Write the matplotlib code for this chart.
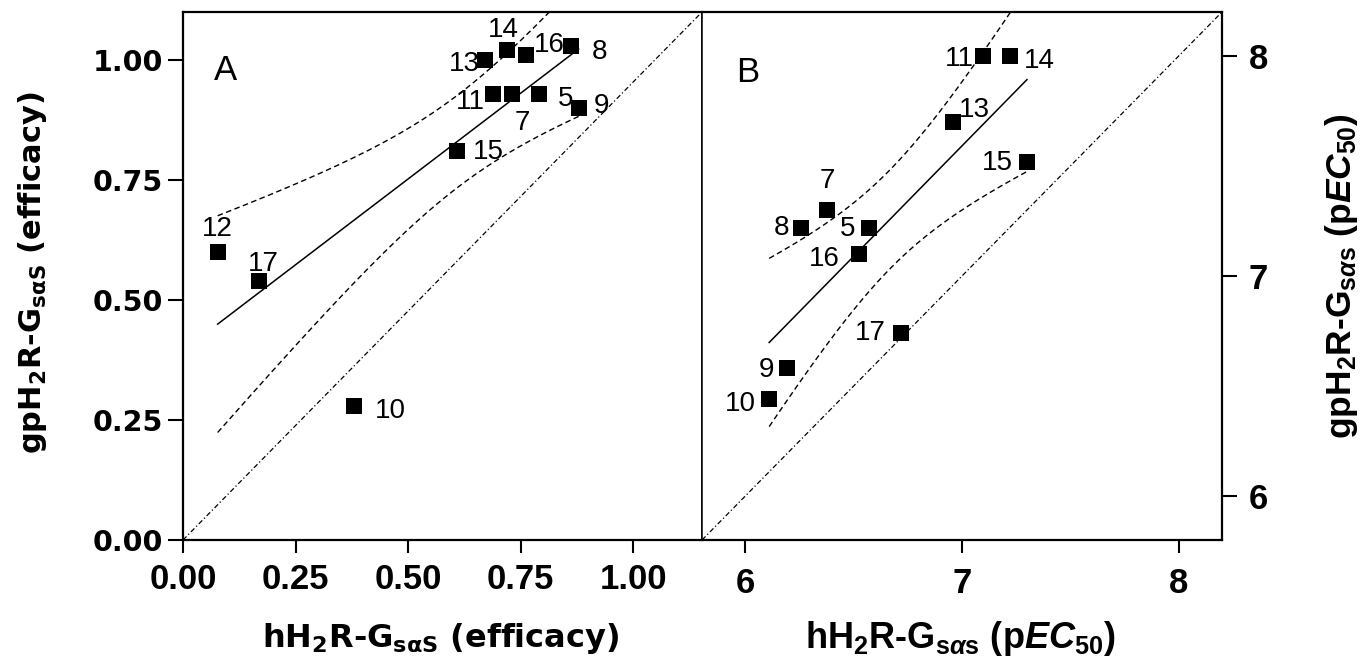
import numpy as np
import matplotlib
matplotlib.use("Agg")
import matplotlib.pyplot as plt

# ---------------- data ----------------
# Panel A: efficacy
a_ids = ["12", "17", "10", "15", "13", "14", "16", "8", "11", "7", "5", "9"]
a_x = [0.077, 0.168, 0.379, 0.609, 0.671, 0.720, 0.762, 0.861, 0.689, 0.731, 0.790, 0.879]
a_y = [0.60, 0.54, 0.28, 0.81, 1.00, 1.02, 1.01, 1.03, 0.93, 0.93, 0.93, 0.90]

# Panel B: pEC50
b_ids = ["11", "14", "13", "15", "7", "8", "5", "16", "17", "9", "10"]
b_x = [7.098, 7.220, 6.960, 7.300, 6.377, 6.259, 6.570, 6.525, 6.720, 6.190, 6.110]
b_y = [8.00, 8.00, 7.70, 7.52, 7.30, 7.22, 7.22, 7.10, 6.74, 6.58, 6.44]

a_ticks = [0.00, 0.25, 0.50, 0.75, 1.00]
a_ticklabels = ["0.00", "0.25", "0.50", "0.75", "1.00"]
b_ticks = [6, 7, 8]
b_ticklabels = ["6", "7", "8"]

# ---------------- layout (label offsets in pixels: right, down) ----------------
a_offsets = {"12": (0, -23), "17": (5, -17), "10": (37, 5), "15": (31, 1),
             "13": (-21, 4), "14": (-4, -20), "16": (23, -10), "8": (29, 6),
             "11": (-23, 8), "7": (10, 29), "5": (27, 5), "9": (23, -2)}
b_offsets = {"11": (-24, 3), "14": (30, 5), "13": (21, -12), "15": (-30, 1),
             "7": (0, -29), "8": (-20, 0), "5": (-21, 1), "16": (-35, 5),
             "17": (-31, 0), "9": (-20, 2), "10": (-29, 5)}

plt.rcParams['font.family'] = ['Liberation Sans', 'DejaVu Sans']
plt.rcParams['mathtext.fontset'] = 'custom'
plt.rcParams['mathtext.rm'] = 'Liberation Sans:bold'
plt.rcParams['mathtext.it'] = 'Liberation Sans:bold:italic'
plt.rcParams['mathtext.bf'] = 'Liberation Sans:bold'

W, H = 1362, 667
fig = plt.figure(figsize=(W / 100, H / 100), dpi=100)

axA = fig.add_axes([183 / W, (H - 540) / H, 519 / W, 528 / H])
axB = fig.add_axes([702 / W, (H - 540) / H, 520 / W, 528 / H])


def fit_band(x, y, tcrit, n=300):
    x = np.asarray(x, float)
    y = np.asarray(y, float)
    slope, icpt = np.polyfit(x, y, 1)
    xs = np.linspace(x.min(), x.max(), n)
    yhat = icpt + slope * xs
    resid = y - (icpt + slope * x)
    s = np.sqrt(np.sum(resid ** 2) / (len(x) - 2))
    sxx = np.sum((x - x.mean()) ** 2)
    se = s * np.sqrt(1.0 / len(x) + (xs - x.mean()) ** 2 / sxx)
    return xs, yhat, yhat - tcrit * se, yhat + tcrit * se


band_ls = (0, (4, 2.5))
id_ls = (0, (4, 2, 1, 2))
PX = 0.72  # points per pixel


def draw_panel(ax, xs_, ys_, ids, offsets, tcrit):
    # diagonal reference line (corner to corner)
    ax.plot([0, 1], [0, 1], transform=ax.transAxes, color='black', lw=0.9,
            linestyle=id_ls, zorder=1)
    xs, yh, lo, hi = fit_band(xs_, ys_, tcrit)
    ax.plot(xs, yh, color='black', lw=1.1, zorder=2)
    ax.plot(xs, lo, color='black', lw=1.0, linestyle=band_ls, zorder=2)
    ax.plot(xs, hi, color='black', lw=1.0, linestyle=band_ls, zorder=2)
    ax.plot(xs_, ys_, 's', color='black', markersize=12, markeredgewidth=0, zorder=3)
    for lab, x, y in zip(ids, xs_, ys_):
        dx, dy = offsets[lab]
        ax.annotate(lab, (x, y), xytext=(dx * PX, -dy * PX), textcoords='offset points',
                    ha='center', va='center', fontsize=20, family='Liberation Sans',
                    zorder=4)


draw_panel(axA, a_x, a_y, a_ids, a_offsets, 2.228)
draw_panel(axB, b_x, b_y, b_ids, b_offsets, 2.262)

# Panel A axes
axA.set_xlim(0, 1.153)
axA.set_ylim(0, 1.1)
axA.set_xticks(a_ticks)
axA.set_xticklabels(a_ticklabels)
axA.set_yticks(a_ticks)
axA.set_yticklabels(a_ticklabels)
axA.tick_params(axis='x', direction='out', length=9.4, width=1.5, pad=7, labelsize=25)
axA.tick_params(axis='y', direction='out', length=10.8, width=1.5, pad=3.6, labelsize=20.5)
for lbl in axA.get_xticklabels():
    lbl.set_family('Liberation Sans')
    lbl.set_weight('bold')
for lbl in axA.get_yticklabels():
    lbl.set_family('DejaVu Sans')
    lbl.set_weight('bold')

# Panel B axes
axB.set_xlim(5.8, 8.2)
axB.set_ylim(5.8, 8.2)
axB.set_xticks(b_ticks)
axB.set_xticklabels(b_ticklabels)
axB.set_yticks(b_ticks)
axB.set_yticklabels(b_ticklabels)
axB.yaxis.tick_right()
axB.tick_params(axis='x', direction='out', length=9.4, width=1.5, pad=10, labelsize=25)
axB.tick_params(axis='y', direction='out', length=10.8, width=1.5, pad=8.6, labelsize=25)
for lbl in axB.get_xticklabels() + axB.get_yticklabels():
    lbl.set_family('Liberation Sans')
    lbl.set_weight('bold')

for ax in (axA, axB):
    for sp in ax.spines.values():
        sp.set_linewidth(1.6)
axA.spines['right'].set_linewidth(1.1)
axB.spines['left'].set_linewidth(1.1)

axA.text(0.081, 0.89, "A", transform=axA.transAxes, ha='center', va='center',
         fontsize=25, family='Liberation Sans')
axB.text(0.088, 0.886, "B", transform=axB.transAxes, ha='center', va='center',
         fontsize=25, family='Liberation Sans')

# axis titles
fig.text(33 / W, 1 - 273 / H, r"gpH$\mathbf{_2}$R-G$\mathbf{_{s\alpha S}}$ (efficacy)",
         rotation=90, ha='center', va='center', fontsize=22, family='DejaVu Sans',
         weight='bold', math_fontfamily='dejavusans')
fig.text(441 / W, 1 - 638 / H, r"hH$\mathbf{_2}$R-G$\mathbf{_{s\alpha S}}$ (efficacy)",
         ha='center', va='center', fontsize=23, family='DejaVu Sans',
         weight='bold', math_fontfamily='dejavusans')
fig.text(960 / W, 1 - 638 / H, r"hH$_\mathrm{2}$R-G$_{\mathrm{s}\alpha\mathrm{s}}$ (p$\mathit{EC}_{\mathit{50}}$)",
         ha='center', va='center', fontsize=26, family='Liberation Sans', weight='bold')
fig.text(1342 / W, 1 - 276 / H, r"gpH$_\mathrm{2}$R-G$_{\mathrm{s}\alpha\mathrm{s}}$ (p$\mathit{EC}_{\mathit{50}}$)",
         rotation=90, ha='center', va='center', fontsize=25.5, family='Liberation Sans',
         weight='bold')

fig.savefig("out.png", dpi=100)
